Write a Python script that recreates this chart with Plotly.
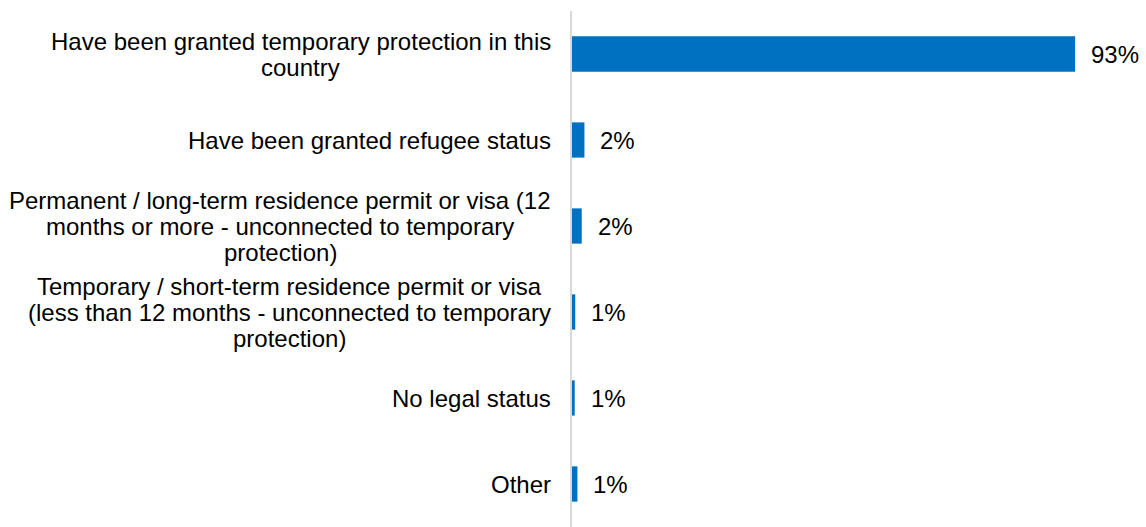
import plotly.graph_objects as go

categories = [
    "Have been granted temporary protection in this<br>country",
    "Have been granted refugee status",
    "Permanent / long-term residence permit or visa (12<br>months or more - unconnected to temporary<br>protection)",
    "Temporary / short-term residence permit or visa<br>(less than 12 months - unconnected to temporary<br>protection)",
    "No legal status",
    "Other",
]
values = [93, 2.3, 1.8, 0.6, 0.5, 1.0]
value_labels = ["93%", "2%", "2%", "1%", "1%", "1%"]

BAR_COLOR = "#0070C0"
FONT_SIZE = 24
FONT = dict(family="Liberation Sans, Arial, sans-serif", size=FONT_SIZE, color="#000000")
LINE_STEP = 26.0      # vertical distance between wrapped label lines (px)
LABEL_EDGE = 21       # gap between right edge of label block and the axis (px)

# Arial / Liberation Sans advance widths (1/1000 em) for measuring label lines
_W = {" ": 278, "(": 333, ")": 333, "-": 333, "/": 278, "%": 889}
_W.update({d: 556 for d in "0123456789"})
_W.update(dict(zip("ABCDEFGHIJKLMNOPQRSTUVWXYZ",
                   [667, 667, 722, 722, 667, 611, 778, 722, 278, 500, 667, 556, 833,
                    722, 778, 667, 778, 722, 667, 611, 722, 667, 944, 667, 667, 611])))
_W.update(dict(zip("abcdefghijklmnopqrstuvwxyz",
                   [556, 556, 500, 556, 556, 278, 556, 556, 222, 222, 500, 222, 833,
                    556, 556, 556, 556, 333, 500, 278, 556, 500, 722, 500, 500, 500])))


def text_width(s):
    return sum(_W.get(c, 556) for c in s) * FONT_SIZE / 1000.0


fig = go.Figure()
fig.add_trace(go.Bar(
    y=categories, x=values, orientation="h",
    marker=dict(color=BAR_COLOR, line=dict(width=0)),
    hoverinfo="skip",
))

annotations = []
for cat in categories:
    lines = cat.split("<br>")
    n = len(lines)
    block_w = max(text_width(ln) for ln in lines)
    for i, ln in enumerate(lines):
        annotations.append(dict(
            xref="paper", yref="y", x=0, y=cat, text=ln,
            xanchor="center", yanchor="middle",
            xshift=-LABEL_EDGE - block_w / 2,
            yshift=((n - 1) / 2 - i) * LINE_STEP,
            showarrow=False, font=FONT,
        ))
for cat, v, lab in zip(categories, values, value_labels):
    annotations.append(dict(
        xref="x", yref="y", x=v, y=cat, text=lab,
        xanchor="left", yanchor="middle",
        xshift=14, showarrow=False, font=FONT,
    ))

fig.update_layout(
    width=1146, height=527,
    margin=dict(l=572, r=33, t=11, b=0),
    paper_bgcolor="white", plot_bgcolor="white",
    bargap=0.59,
    showlegend=False,
    xaxis=dict(range=[0, 100], visible=False, fixedrange=True),
    yaxis=dict(
        type="category", autorange="reversed",
        showticklabels=False, ticks="",
        showline=True, linecolor="#D9D9D9", linewidth=2,
        showgrid=False, zeroline=False,
    ),
    annotations=annotations,
    font=FONT,
)

fig.write_html("out.html")
